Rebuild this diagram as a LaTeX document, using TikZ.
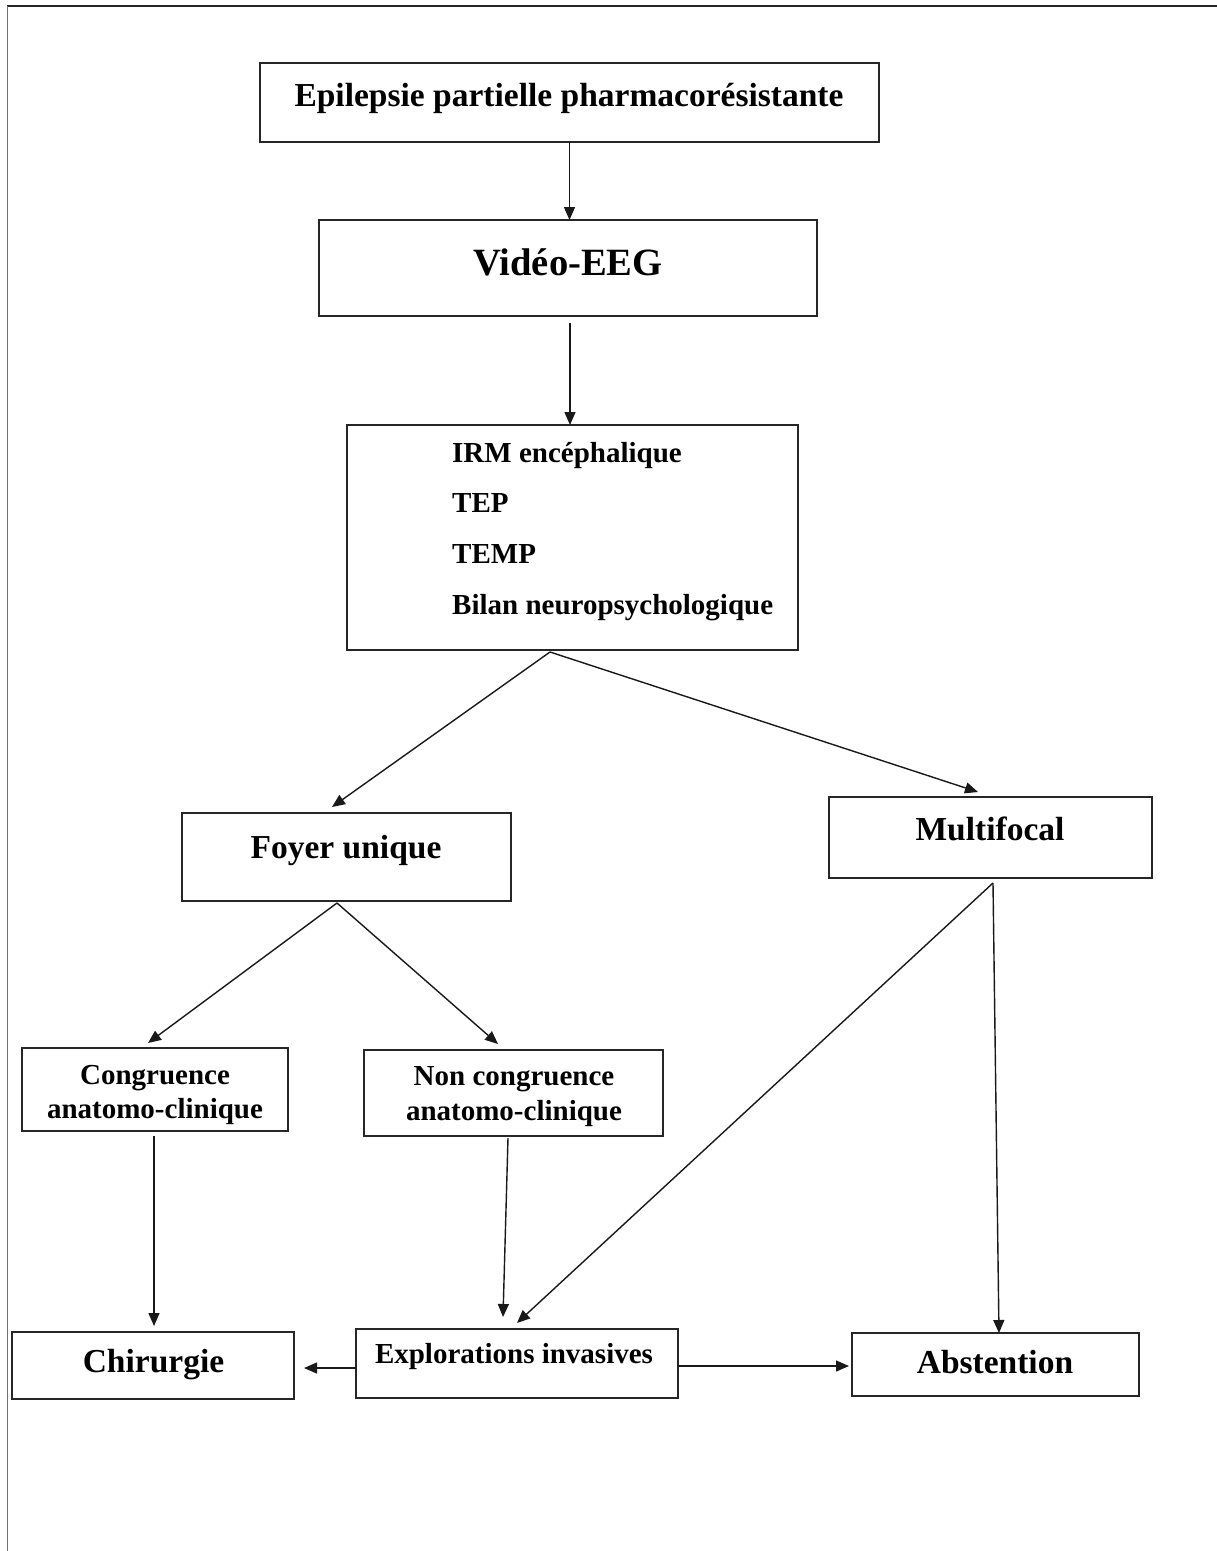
\documentclass[tikz,border=0pt]{standalone}
\usepackage{fontspec}
\setmainfont{Liberation Serif}
\usetikzlibrary{arrows.meta}
\tikzset{
  box/.style={draw=black!85, line width=1.6pt, rectangle, inner sep=0pt, outer sep=0pt},
  bigtxt/.style={font=\bfseries\fontsize{33.5}{40}\selectfont, inner sep=0pt, anchor=base},
  smalltxt/.style={font=\bfseries\fontsize{29}{34}\selectfont, inner sep=0pt, anchor=base},
  hugetxt/.style={font=\bfseries\fontsize{38.6}{46}\selectfont, inner sep=0pt, anchor=base},
  arr/.style={draw=black!90, line width=1.4pt, -{Triangle[length=13pt,width=11pt]}},
}
\begin{document}
\begin{tikzpicture}[x=1pt, y=-1pt]
\useasboundingbox (0,0) rectangle (1217,1551);
% frame
\coordinate (fTL) at (7,6);
\coordinate (fTR) at (1217,6);
\coordinate (fBL) at (7,1551);
\draw[line width=1.8pt, black!85] (fTL) -- (fTR);
\draw[line width=1pt, black!55] (fTL) -- (fBL);

% boxes
\node[box, minimum width=619pt, minimum height=79pt] (b1) at (569.5,102.5) {};
\node[box, minimum width=498pt, minimum height=96pt] (b2) at (568,268) {};
\node[box, minimum width=451pt, minimum height=225pt] (b3) at (572.5,537.5) {};
\node[box, minimum width=329pt, minimum height=88pt] (foyer) at (346.5,857) {};
\node[box, minimum width=323pt, minimum height=81pt] (multi) at (990.5,837.5) {};
\node[box, minimum width=266pt, minimum height=83pt] (cong) at (155,1089.5) {};
\node[box, minimum width=299pt, minimum height=86pt] (ncong) at (513.5,1093) {};
\node[box, minimum width=282pt, minimum height=67pt] (chir) at (153,1365.5) {};
\node[box, minimum width=322pt, minimum height=69pt] (expl) at (517,1363.5) {};
\node[box, minimum width=287pt, minimum height=63pt] (abst) at (995.5,1364.5) {};

% texts
\node[bigtxt] (t1) at (569,106) {Epilepsie partielle pharmacorésistante};
\node[hugetxt] (t2) at (568,275) {Vidéo-EEG};
\node[smalltxt, anchor=base west] (t3a) at (452,462) {IRM encéphalique};
\node[smalltxt, anchor=base west] (t3b) at (452,512) {TEP};
\node[smalltxt, anchor=base west] (t3c) at (452,563) {TEMP};
\node[smalltxt, anchor=base west] (t3d) at (452,614) {Bilan neuropsychologique};
\node[bigtxt] (t4) at (346,858) {Foyer unique};
\node[bigtxt] (t5) at (990,840) {Multifocal};
\node[smalltxt] (t6a) at (155,1084) {Congruence};
\node[smalltxt] (t6b) at (155,1118) {anatomo-clinique};
\node[smalltxt] (t7a) at (514,1085) {Non congruence};
\node[smalltxt] (t7b) at (514,1120) {anatomo-clinique};
\node[bigtxt] (t8) at (153.5,1372) {Chirurgie};
\node[smalltxt] (t9) at (514,1363) {Explorations invasives};
\node[bigtxt] (t10) at (995,1373) {Abstention};

% connectors
\draw[arr] (b1.south) -- (b1.south |- b2.north);
\draw[arr] ([xshift=2pt,yshift=-7pt]b2.south) -- ([xshift=-2.5pt]b3.north);
\draw[arr] ([xshift=-22.5pt,yshift=-2pt]b3.south) -- ([xshift=-14.5pt,yshift=6pt]foyer.north);
\draw[arr] ([xshift=-22.5pt,yshift=-2pt]b3.south) -- ([xshift=-12.5pt,yshift=5pt]multi.north);
\draw[arr] ([xshift=-9.5pt,yshift=-2pt]foyer.south) -- ([xshift=-7pt,yshift=5pt]cong.north);
\draw[arr] ([xshift=-9.5pt,yshift=-2pt]foyer.south) -- ([xshift=-15.5pt,yshift=6pt]ncong.north);
\draw[arr] ([xshift=-1pt,yshift=-5pt]cong.south) -- ([xshift=1pt,yshift=6pt]chir.north);
\draw[arr] ([xshift=-5.5pt,yshift=-2pt]ncong.south) -- ([xshift=-14pt,yshift=12pt]expl.north);
\draw[arr] ([xshift=2.5pt,yshift=-5pt]multi.south) -- ([yshift=6pt]expl.north);
\draw[arr] ([xshift=2.5pt,yshift=-5pt]multi.south) -- ([xshift=3.5pt]abst.north);
\draw[arr] ([yshift=-4.5pt]expl.west) -- ([xshift=10pt,yshift=-2.5pt]chir.east);
\draw[arr] ([yshift=-2.5pt]expl.east) -- ([xshift=-3pt,yshift=-1.5pt]abst.west);
\end{tikzpicture}
\end{document}
